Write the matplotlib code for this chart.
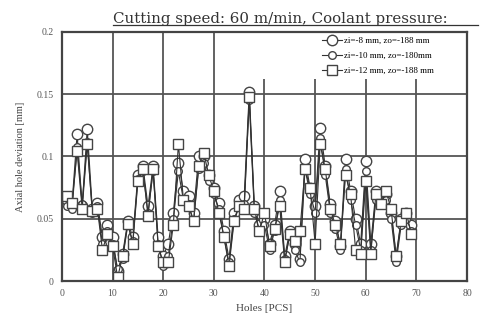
import matplotlib
matplotlib.use("Agg")
from matplotlib import pyplot as plt
from matplotlib.lines import Line2D
from matplotlib.patches import Rectangle
import numpy as np

holes = list(range(1, 70))

dev_a = [0.065, 0.062, 0.118, 0.060, 0.122, 0.058, 0.063, 0.035, 0.045, 0.035,
         0.008, 0.022, 0.048, 0.035, 0.085, 0.092, 0.060, 0.092, 0.035, 0.020,
         0.030, 0.055, 0.095, 0.072, 0.068, 0.055, 0.100, 0.100, 0.085, 0.075,
         0.063, 0.040, 0.018, 0.055, 0.065, 0.068, 0.152, 0.060, 0.045, 0.050,
         0.030, 0.045, 0.072, 0.020, 0.040, 0.030, 0.018, 0.098, 0.075, 0.060,
         0.123, 0.092, 0.062, 0.048, 0.028, 0.098, 0.072, 0.050, 0.030, 0.096,
         0.030, 0.072, 0.068, 0.070, 0.055, 0.020, 0.050, 0.055, 0.045]
dev_b = [0.060, 0.058, 0.108, 0.062, 0.112, 0.055, 0.060, 0.030, 0.040, 0.030,
         0.010, 0.018, 0.045, 0.032, 0.082, 0.088, 0.055, 0.088, 0.030, 0.012,
         0.020, 0.050, 0.088, 0.065, 0.062, 0.048, 0.090, 0.095, 0.080, 0.070,
         0.058, 0.035, 0.015, 0.050, 0.060, 0.062, 0.145, 0.055, 0.040, 0.045,
         0.025, 0.040, 0.065, 0.018, 0.036, 0.025, 0.015, 0.090, 0.070, 0.055,
         0.115, 0.085, 0.055, 0.042, 0.025, 0.090, 0.065, 0.045, 0.025, 0.088,
         0.025, 0.065, 0.062, 0.065, 0.050, 0.015, 0.045, 0.050, 0.040]
dev_c = [0.068, 0.063, 0.104, 0.058, 0.110, 0.056, 0.058, 0.025, 0.038, 0.028,
         0.003, 0.020, 0.046, 0.030, 0.080, 0.090, 0.052, 0.090, 0.028, 0.015,
         0.015, 0.045, 0.110, 0.065, 0.060, 0.048, 0.092, 0.103, 0.085, 0.072,
         0.055, 0.035, 0.012, 0.048, 0.060, 0.058, 0.148, 0.058, 0.040, 0.055,
         0.028, 0.042, 0.060, 0.015, 0.038, 0.032, 0.040, 0.090, 0.075, 0.030,
         0.110, 0.090, 0.058, 0.045, 0.030, 0.085, 0.070, 0.025, 0.022, 0.080,
         0.022, 0.070, 0.062, 0.072, 0.058, 0.020, 0.048, 0.055, 0.038]

labels = ['zi=-8 mm, zo=-188 mm', 'zi=-10 mm, zo=-180mm', 'zi=-12 mm, zo=-188 mm']

plt.rcParams['font.family'] = 'Liberation Serif'

Figure = plt.figure(figsize=(4.8, 3.26), dpi=100)
Graph = Figure.add_axes([0.129, 0.138, 0.844, 0.764])

Graph.plot(holes, dev_a, '-o', color='#333333', lw=0.8, ms=7.5, mfc='white', mec='#444444', mew=1.0, label=labels[0])
Graph.plot(holes, dev_b, '-o', color='#333333', lw=0.8, ms=5.5, mfc='white', mec='#444444', mew=1.0, label=labels[1])
Graph.plot(holes, dev_c, '-s', color='#333333', lw=0.8, ms=7.5, mfc='white', mec='#444444', mew=1.0, label=labels[2])

Graph.set_xlim(0, 80)
Graph.set_ylim(0, 0.2)
Graph.set_xticks(np.arange(0, 81, 10))
Graph.set_xticklabels(['0', '10', '20', '30', '40', '50', '60', '70', '80'], fontsize=7, color='#555555')
Graph.set_yticks([0, 0.05, 0.1, 0.15, 0.2])
Graph.set_yticklabels(['0', '0.05', '0.1', '0.15', '0.2'], fontsize=7, color='#555555')
Graph.tick_params(length=0, pad=6)

Graph.set_axisbelow(True)
Graph.grid(color='#555555', linewidth=1.3)
for s in Graph.spines.values():
    s.set_linewidth(1.6)
    s.set_color('#444444')

# white box behind the legend hides the upper gridlines
Graph.add_patch(Rectangle((0.44, 0.81), 0.56, 0.19, transform=Graph.transAxes,
                          facecolor='white', edgecolor='none', zorder=1))

Graph.set_xlabel('Holes [PCS]', fontsize=8, color='#444444')
Graph.set_ylabel('Axial hole deviation [mm]', fontsize=7.5, color='#444444', labelpad=8)

lg = Graph.legend(loc='upper right', bbox_to_anchor=(0.93, 1.0), fontsize=6.5, frameon=False,
                  borderaxespad=0.1, handlelength=2.2, labelspacing=0.75, handletextpad=0.3)

Figure.text(0.235, 0.93, 'Cutting speed: 60 m/min, Coolant pressure:', fontsize=10.8,
            family='DejaVu Serif', color='#333333')
Figure.add_artist(Line2D([0.235, 0.995], [0.922, 0.922], color='#333333', lw=0.9))

Figure.savefig('out.png', dpi=100)
